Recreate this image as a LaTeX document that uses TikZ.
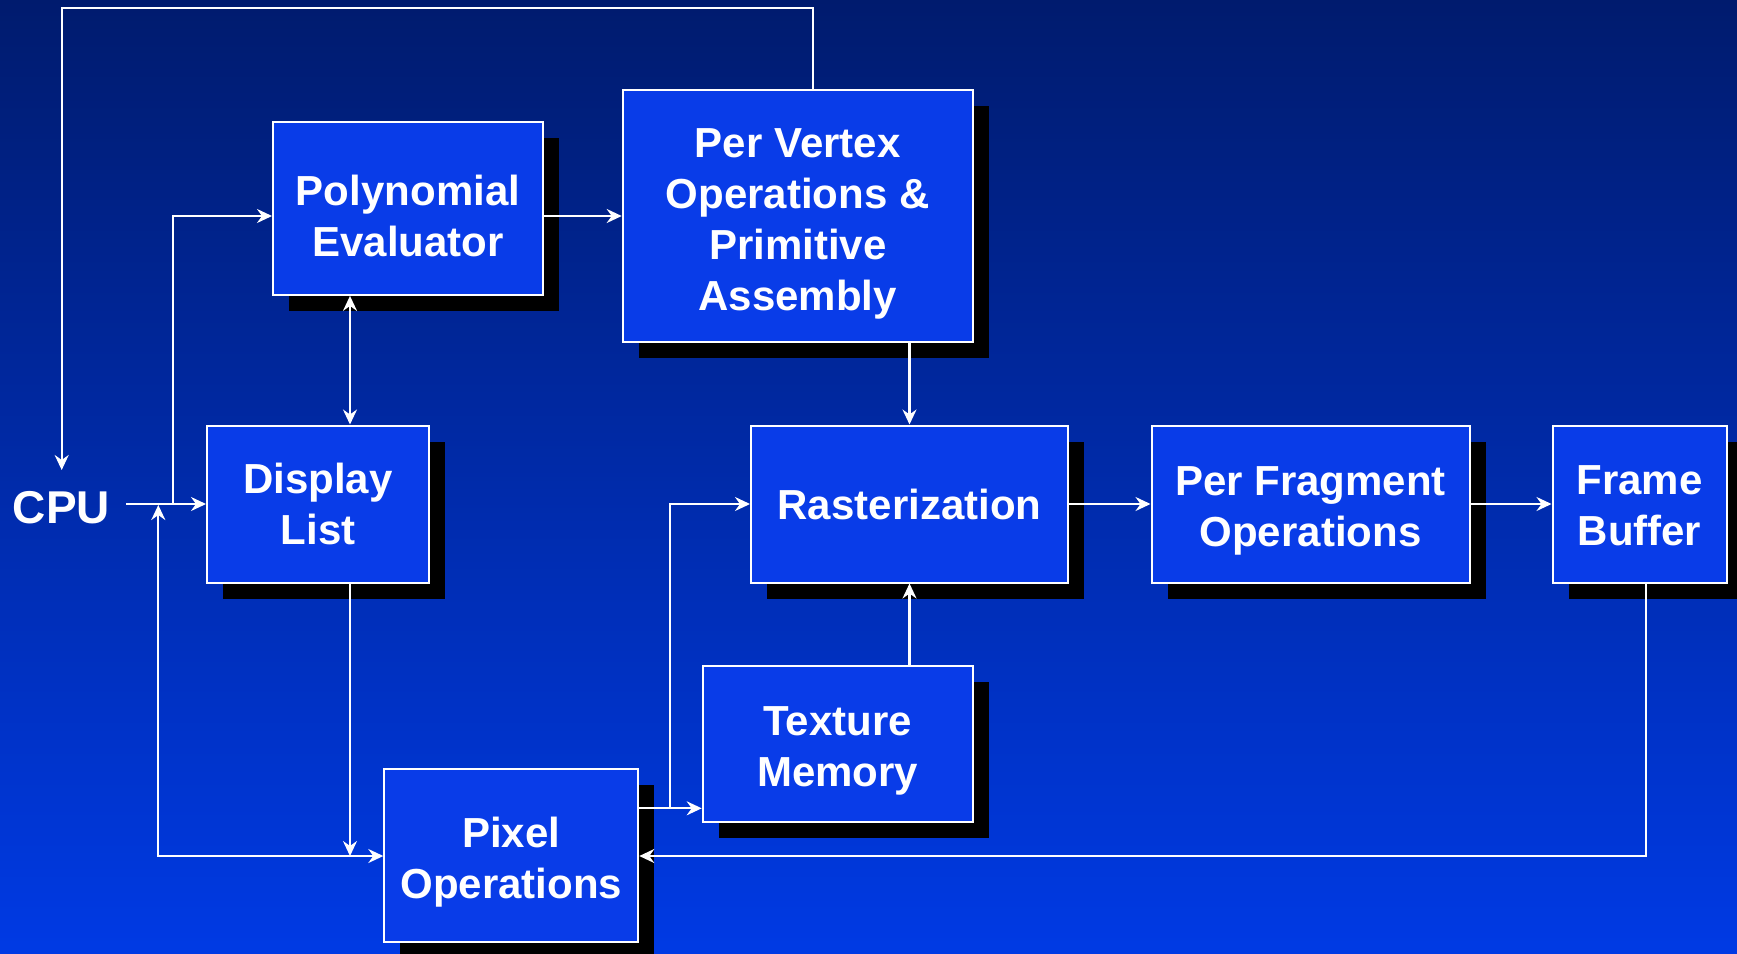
\documentclass[tikz,border=0pt]{standalone}
\usepackage{fontspec}
\setmainfont{Liberation Sans}
\usetikzlibrary{arrows.meta,shadows}
\definecolor{bgtop}{RGB}{0,27,110}
\definecolor{bgbot}{RGB}{0,58,228}
\definecolor{boxfill}{RGB}{9,60,232}
\newcommand\lowr[1]{\rule{0pt}{#1}}
\tikzset{
  blk/.style={draw=white, line width=2pt, fill=boxfill, text=white, align=center,
    inner sep=0pt, font=\fontsize{42}{51}\selectfont\bfseries,
    drop shadow={shadow xshift=16pt, shadow yshift=-16pt, fill=black, opacity=1}},
  arr/.style={draw=white, line width=2.2pt, -{Stealth[length=15pt,width=14pt,inset=5pt]}},
  darr/.style={draw=white, line width=2.2pt, {Stealth[length=15pt,width=14pt,inset=5pt]}-{Stealth[length=15pt,width=14pt,inset=5pt]}}
}
\begin{document}
\begin{tikzpicture}[x=1pt,y=-1pt]
\shade[top color=bgtop, bottom color=bgbot] (0,0) rectangle (1737,953);
\useasboundingbox (0,0) rectangle (1737,953);

\node[blk, minimum width=270pt, minimum height=173pt] (poly) at (408,208.4) {\lowr{46.5pt}Polynomial\\Evaluator};
\node[blk, minimum width=222pt, minimum height=157pt] (dl) at (318,504) {Display\\List};
\node[blk, minimum width=350pt, minimum height=252pt] (pv) at (797.7,216) {\lowr{45pt}Per Vertex\\Operations \&\\Primitive\\Assembly};
\node[blk, minimum width=317pt, minimum height=157pt] (ras) at (909.5,504) {Rasterization};
\node[blk, minimum width=318pt, minimum height=157pt] (pf) at (1310.5,504) {\lowr{42pt}Per Fragment\\Operations};
\node[blk, minimum width=174pt, minimum height=157pt] (fb) at (1639.5,504) {\lowr{33pt}Frame\\Buffer};
\node[blk, minimum width=270pt, minimum height=156pt] (tm) at (837.7,744) {\lowr{43pt}Texture\\Memory};
\node[blk, minimum width=254pt, minimum height=173pt] (po) at (511.3,855.5) {\lowr{44.5pt}Pixel\\Operations};
\node[text=white, inner sep=0pt, anchor=base, font=\fontsize{46}{50}\selectfont\bfseries] (cpu) at (61.5,523) {CPU};

\coordinate (topL) at (61.7,8.3);
\coordinate (topR) at (813.3,8.3);
\coordinate (cpuin) at (61.7,470);
\coordinate (cpuout) at (126,504);
\coordinate (j1) at (173.3,504);
\coordinate (p1) at (173.3,216);
\coordinate (dlx) at (350,0);
\coordinate (bl) at (158.3,856);
\coordinate (cpujoin) at (158.3,505);
\coordinate (fbx) at (1645.7,856);
\coordinate (pt) at (670,808.3);

\draw[arr] (topR |- pv.north) -- (topR) -- (topL) -- (cpuin);
\draw[arr] (cpuout) -- (dl.west);
\draw[arr] (j1) -- (p1) -- (p1 -| poly.west);
\draw[arr] (poly.east |- p1) -- (pv.west |- p1);
\draw[darr] (poly.south -| dlx) -- (dl.north -| dlx);
\draw[arr] (dl.south -| dlx) -- (dlx |- bl);
\draw[darr] (cpujoin) -- (bl) -- (bl -| po.west);
\draw[arr] (ras.north |- pv.south) -- (ras.north);
\draw[arr] (ras.east) -- (pf.west);
\draw[arr] (pf.east) -- (fb.west);
\draw[arr] (tm.north -| ras.north) -- (ras.south);
\draw[arr] (fbx |- fb.south) -- (fbx) -- (fbx -| po.east);
\draw[arr] (pt -| po.east) -- (pt -| tm.west);
\draw[arr] (pt) |- (ras.west);
\end{tikzpicture}
\end{document}
